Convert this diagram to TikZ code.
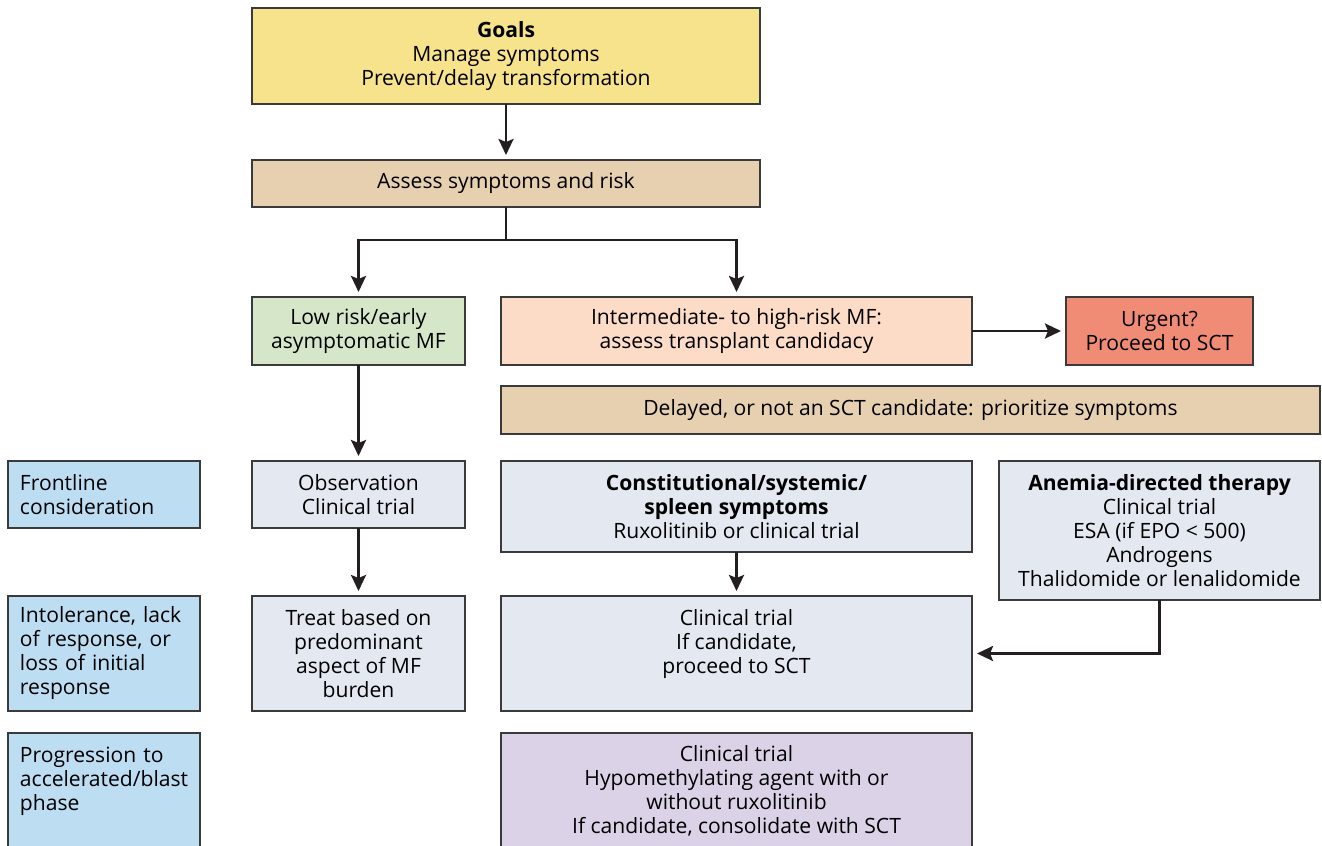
\documentclass[tikz,border=0pt]{standalone}
\usepackage{fontspec}
\setmainfont{Open Sans}
\usetikzlibrary{arrows.meta, positioning}
\definecolor{goalyellow}{HTML}{F6E38B}
\definecolor{assesstan}{HTML}{E7D0B0}
\definecolor{lowgreen}{HTML}{D5E7C8}
\definecolor{interpeach}{HTML}{FCDCC7}
\definecolor{urgentred}{HTML}{F08C76}
\definecolor{phaseblue}{HTML}{BDDDF3}
\definecolor{therapygray}{HTML}{E3E8F1}
\definecolor{blastpurple}{HTML}{DBD2E8}
\definecolor{boxline}{HTML}{3A3A3A}
\definecolor{arrowline}{HTML}{231F20}

\begin{document}
\begin{tikzpicture}[
        >={Stealth[length=3.2mm,width=3mm,inset=0.6mm]},
        box/.style={
            draw=boxline,
            line width=0.8pt,
            inner sep=0pt,
            outer sep=0pt,
            align=center
        },
        sidebox/.style={
            box,
            fill=phaseblue,
            align=left,
            text width=3.36cm,
            inner xsep=0.24cm,
            minimum width=3.84cm
        },
        narrowcol/.style={minimum width=4.26cm},
        maincol/.style={minimum width=9.42cm},
        arr/.style={
            ->,
            draw=arrowline,
            line width=1.5pt,
            shorten >=0.1cm
        },
        every node/.style={font=\fontsize{12}{13.66}\selectfont}
    ]

        \useasboundingbox (0,0) rectangle (26.44,-16.92);
        \clip (0,0) rectangle (26.44,-16.92);

        % top of the flow
        \node[box, fill=goalyellow, minimum width=10.16cm, minimum height=1.92cm] (goals) at (10.12,-1.12)
            {\textbf{Goals}\\Manage symptoms\\Prevent/delay transformation};
        \node[box, fill=assesstan, minimum width=10.16cm, minimum height=0.94cm, below=1.12cm of goals] (assess)
            {Assess symptoms and risk};
        \coordinate[below=0.66cm of assess] (split);

        % risk groups
        \node[box, narrowcol, fill=lowgreen, minimum height=1.36cm, below=1.8cm of assess.south west, anchor=north west] (lowrisk)
            {Low risk/early\\asymptomatic MF};
        \node[box, maincol, fill=interpeach, minimum height=1.36cm, right=0.72cm of lowrisk] (highrisk)
            {Intermediate- to high-risk MF:\\assess transplant candidacy};
        \node[box, fill=urgentred, minimum width=3.74cm, minimum height=1.36cm, right=1.88cm of highrisk] (urgent)
            {Urgent?\\Proceed to SCT};
        \node[box, fill=assesstan, minimum width=16.38cm, minimum height=0.96cm, below=0.42cm of highrisk.south west, anchor=north west] (delayed)
            {Delayed, or not an SCT candidate: prioritize symptoms};

        % frontline
        \node[box, narrowcol, fill=therapygray, minimum height=1.34cm, below=1.92cm of lowrisk] (observe)
            {Observation\\Clinical trial};
        \node[sidebox, minimum height=1.34cm, left=1.04cm of observe] (frontline)
            {Frontline\\consideration};
        \node[box, maincol, fill=therapygray, minimum height=1.82cm, below=0.54cm of delayed.south west, anchor=north west] (spleen)
            {\textbf{Constitutional/systemic/}\\\textbf{spleen symptoms}\\Ruxolitinib or clinical trial};
        \node[box, fill=therapygray, minimum width=6.42cm, minimum height=2.78cm, below=0.54cm of delayed.south east, anchor=north east] (anemia)
            {\textbf{Anemia-directed therapy}\\Clinical trial\\ESA (if EPO < 500)\\Androgens\\Thalidomide or lenalidomide};

        % second line
        \node[box, narrowcol, fill=therapygray, minimum height=2.30cm, below=1.36cm of observe] (treat)
            {Treat based on\\predominant\\aspect of MF\\burden};
        \node[sidebox, minimum height=2.30cm, left=1.04cm of treat] (intolerance)
            {Intolerance, lack\\of response, or\\loss of initial\\response};
        \node[box, maincol, fill=therapygray, minimum height=2.30cm, right=0.72cm of treat] (secondtrial)
            {Clinical trial\\If candidate,\\proceed to SCT\\\mbox{}};

        % blast phase
        \node[box, maincol, fill=blastpurple, minimum height=2.30cm, below=0.44cm of secondtrial] (blast)
            {Clinical trial\\Hypomethylating agent with or\\without ruxolitinib\\If candidate, consolidate with SCT};
        \node[sidebox, minimum height=2.30cm, below=0.44cm of intolerance] (progression)
            {Progression to\\accelerated/blast\\phase\\\mbox{}};

        \draw[arr] (goals) -- (assess);
        \draw[arr] (assess) -- (split) -| (lowrisk);
        \draw[arr] (split) -| (highrisk);
        \draw[arr] (highrisk) -- (urgent);
        \draw[arr] (lowrisk) -- (observe);
        \draw[arr] (observe) -- (treat);
        \draw[arr] (spleen) -- (secondtrial);
        \draw[arr] (anemia) |- (secondtrial);

    \end{tikzpicture}
\end{document}
